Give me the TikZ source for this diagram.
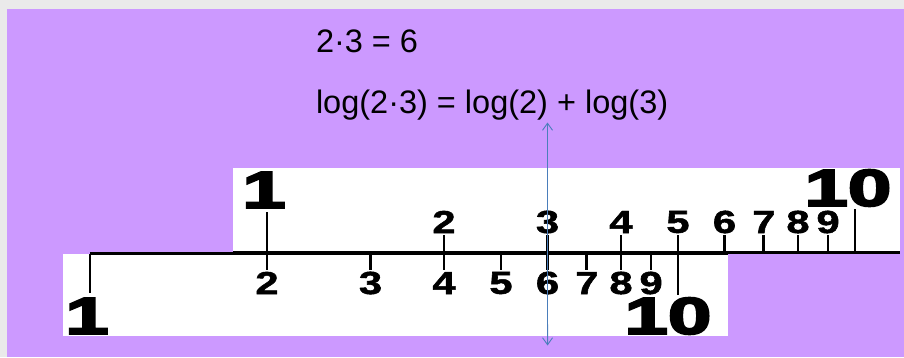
\documentclass[tikz,border=0pt]{standalone}
\usepackage{fontspec}
\setmainfont{Liberation Sans}
\newfontfamily\scalefont[FakeBold=1.5]{Liberation Sans Bold}
\newfontfamily\indexfont[FakeBold=3.5]{Liberation Sans Bold}
\usepackage{tikz}
\usetikzlibrary{arrows.meta,calc,positioning}
\definecolor{slidebg}{RGB}{204,153,255}
\definecolor{edgegray}{RGB}{234,234,234}
\definecolor{arrowblue}{RGB}{74,126,187}
\tikzset{
  every node/.style = {outer sep=0, inner sep=0},
  rulebox/.style = {fill=white, draw=none},
  scaleline/.style = {line width=3pt},
  ticklin/.style = {line width=2.8pt},
  digit/.style = {font=\fontsize{32}{32}\scalefont, xscale=1.3},
  index/.style = {font=\fontsize{52}{52}\indexfont, xscale=1.5},
  eqn/.style = {font=\fontsize{32.5}{36}\selectfont, anchor=base west},
  marker/.style = {{Straight Barb[length=7pt,width=10pt]}-{Straight Barb[length=7pt,width=10pt]}, draw=arrowblue, line width=0.9pt}
}

\begin{document}
\begin{tikzpicture}[x=1pt, y=-1pt]
    \useasboundingbox (0,0) rectangle (904,357);
    \fill[edgegray] (0,0) rectangle (904,357);
    \fill[slidebg] (7,9) rectangle (904,357);
    \def\len{588}
    \def\botx{90}
    \pgfmathsetmacro\topx{\botx+log10(2)*\len}

    \node[eqn] (prod) at (316,52) {2·3 = 6};
    \node[eqn] (logs) at (316,113) {log(2·3) = log(2) + log(3)};

    % sliding scale
    \fill[rulebox] (233,168) rectangle (900,253);
    \draw[scaleline] (233,252.5) -- (900,252.5);
    \coordinate (c1) at (\topx,252.5);
    \coordinate (c10) at (\topx+\len,252.5);
    \draw[ticklin] (c1) -- ++(0,-41);
    \draw[ticklin] (c10) -- ++(0,-44);
    \node[index] (cl1) at (\topx-3,190) {1};
    \node[index] (cl10) at (\topx+\len-7,188) {10};
    \foreach \i in {2,...,9} {
      \pgfmathsetmacro\xc{\topx+log10(\i)*\len}
      \coordinate (c\i) at (\xc,252.5);
      \draw[ticklin] (c\i) -- ++(0,-18);
      \node[digit] (cl\i) at (\xc,222) {\i};
    }

    % fixed scale
    \fill[rulebox] (63,254) rectangle (728,336);
    \draw[scaleline] (\botx,253.5) -- (728,253.5);
    \coordinate (d1) at (\botx,253.5);
    \coordinate (d10) at (\botx+\len,253.5);
    \draw[ticklin] (d1) -- ++(0,39);
    \draw[ticklin] (d10) -- ++(0,41);
    \node[index] (dl1) at (\botx-3,316) {1};
    \node[index] (dl10) at (\botx+\len-10,316) {10};
    \foreach \i in {2,...,9} {
      \pgfmathsetmacro\xc{\botx+log10(\i)*\len}
      \coordinate (d\i) at (\xc,253.5);
      \draw[ticklin] (d\i) -- ++(0,16);
      \node[digit] (dl\i) at (\xc,283) {\i};
    }

    \coordinate (ptop) at ($(c3)+(0,-130)$);
    \coordinate (pbot) at ($(d6)+(0,92)$);
    \draw[marker] (ptop) -- (pbot);
  \end{tikzpicture}
\end{document}
